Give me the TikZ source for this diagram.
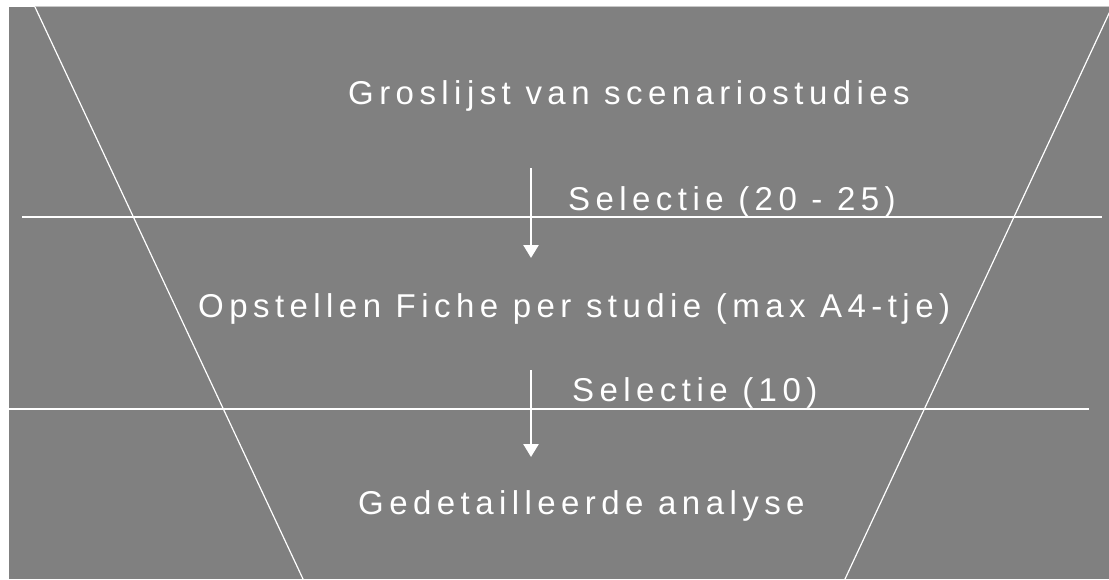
\documentclass[tikz,border=0pt]{standalone}
\usepackage{fontspec}
\usetikzlibrary{arrows.meta}
\newfontfamily\lblfont[LetterSpace=16.5]{Liberation Sans}
\definecolor{funnelgray}{HTML}{808080}
\definecolor{rimgray}{HTML}{C8C8C8}
\tikzset{
  rule/.style={draw=white, line width=1.2pt},
  stage/.style={text=white, font=\lblfont\fontsize{33}{39}\selectfont, inner sep=0pt, anchor=base west},
  flow/.style={draw=white, line width=2.6pt, -{Triangle[width=15pt,length=13pt]}}
}
\begin{document}
\begin{tikzpicture}[x=1pt,y=-1pt]
  \useasboundingbox (0,0) rectangle (1109,579);
  \fill[white] (0,0) rectangle (1109,579);
  \fill[funnelgray] (9,7) rectangle (1109,579);
  \draw[rimgray, line width=1.5pt] (35,6.5) -- (1109,6.5);

  % funnel sides
  \coordinate (ltop) at (35,7);
  \coordinate (lbot) at (303,579);
  \coordinate (rtop) at (1112,7);
  \coordinate (rbot) at (845,579);
  \draw[rule] (ltop) -- (lbot);
  \draw[rule] (rtop) -- (rbot);

  % stage separators
  \coordinate (s1a) at (22,217);
  \coordinate (s1b) at (1102,217);
  \coordinate (s2a) at (9,409);
  \coordinate (s2b) at (1089,409);
  \draw[rule] (s1a) -- (s1b);
  \draw[rule] (s2a) -- (s2b);

  % stage texts
  \node[stage] (t1) at (348,104) {Groslijst van scenariostudies};
  \node[stage] (sel1) at (568,210) {Selectie (20 - 25)};
  \node[stage] (t2) at (198,317) {Opstellen Fiche per studie (max A4-tje)};
  \node[stage] (sel2) at (572,401) {Selectie (10)};
  \node[stage] (t3) at (358,514) {Gedetailleerde analyse};

  % selection arrows
  \coordinate (a1s) at (531,168);
  \coordinate (a1e) at (531,258);
  \coordinate (a2s) at (531,370);
  \coordinate (a2e) at (531,457);
  \draw[flow] (a1s) -- (a1e);
  \draw[flow] (a2s) -- (a2e);
\end{tikzpicture}
\end{document}
